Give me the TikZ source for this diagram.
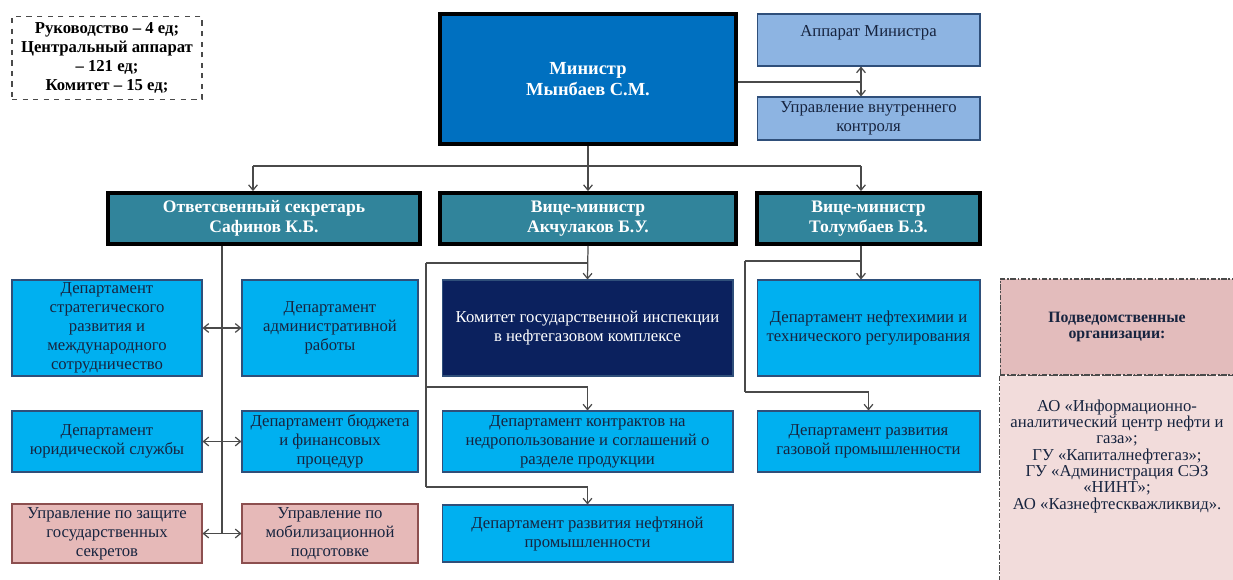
\documentclass[tikz,border=0pt]{standalone}
\usepackage{fontspec}
\setmainfont{Liberation Serif}
\usepackage{xcolor}
\usepackage{tikz}
\usetikzlibrary{arrows.meta}

\definecolor{minblue}{HTML}{0070C0}
\definecolor{paleblue}{HTML}{8DB4E2}
\definecolor{headteal}{HTML}{31849B}
\definecolor{deptcyan}{HTML}{00B0F0}
\definecolor{komnavy}{HTML}{0B215E}
\definecolor{rosebox}{HTML}{E6B9B8}
\definecolor{roseline}{HTML}{8C4F4F}
\definecolor{orghead}{HTML}{E3BCBC}
\definecolor{orgbody}{HTML}{F2DCDB}
\definecolor{boxline}{HTML}{2F4F7A}
\definecolor{darktext}{HTML}{17243F}
\definecolor{linkgray}{HTML}{4A4A4A}

\begin{document}
\begin{tikzpicture}[x=0.02cm, y=-0.02cm, >={Straight Barb[length=3pt,width=5pt]},
    box/.style={draw=boxline, line width=0.6pt, align=center, inner sep=1pt,
        text=darktext, font=\fontsize{9.5}{10.8}\selectfont},
    deptbox/.style={box, fill=deptcyan},
    rosebox/.style={box, fill=rosebox, draw=roseline},
    palebox/.style={box, fill=paleblue, minimum width=4.46cm},
    headbox/.style={draw=black, line width=2.2pt, fill=headteal, align=center,
        text=white, font=\bfseries\fontsize{10}{11.4}\selectfont, minimum height=1.02cm},
    link/.style={draw=linkgray, line width=0.7pt},
    linkarrow/.style={link, ->},
    bothways/.style={link, <->}]

    \useasboundingbox (0,0) rectangle (1233,579);

    % staff numbers
    \node[draw=linkgray, dashed, line width=0.6pt, minimum width=3.8cm, minimum height=1.64cm,
        align=center, font=\bfseries\fontsize{9.5}{10.8}\selectfont] (staff) at (107,58)
        {Руководство – 4 ед;\\Центральный аппарат\\– 121 ед;\\Комитет – 15 ед;};

    % top level
    \node[headbox, fill=minblue, minimum width=5.92cm, minimum height=2.6cm,
        font=\bfseries\fontsize{10.5}{12}\selectfont] (minister) at (588,79)
        {Министр\\Мынбаев С.М.};
    \node[palebox, minimum height=1.04cm] (apparat) at (868.5,40) {Аппарат Министра\\~};
    \node[palebox, minimum height=0.86cm] (control) at (868.5,118.5)
        {Управление внутреннего\\контроля};

    % second level
    \node[headbox, minimum width=6.24cm] (secretary) at (264,218.5)
        {Ответсвенный секретарь\\Сафинов К.Б.};
    \node[headbox, minimum width=5.92cm] (vm1) at (588,218.5)
        {Вице-министр\\Акчулаков Б.У.};
    \node[headbox, minimum width=4.46cm] (vm2) at (868.5,218.5)
        {Вице-министр\\Толумбаев Б.З.};

    % secretary's units
    \node[deptbox, minimum width=3.8cm, minimum height=1.92cm] (strat) at (107,328)
        {Департамент\\стратегического\\развития и\\международного\\сотрудничество};
    \node[deptbox, minimum width=3.52cm, minimum height=1.92cm] (admin) at (330,328)
        {Департамент\\административной\\работы};
    \node[deptbox, minimum width=3.8cm, minimum height=1.22cm] (jur) at (107,441.5)
        {Департамент\\юридической службы};
    \node[deptbox, minimum width=3.52cm, minimum height=1.22cm] (budget) at (330,441.5)
        {Департамент бюджета\\и финансовых\\процедур};
    \node[rosebox, minimum width=3.8cm, minimum height=1.18cm] (secret) at (107,533.5)
        {Управление по защите\\государственных\\секретов};
    \node[rosebox, minimum width=3.52cm, minimum height=1.18cm] (mobil) at (330,533.5)
        {Управление по\\мобилизационной\\подготовке};

    % first vice minister
    \node[deptbox, fill=komnavy, text=white, minimum width=5.82cm, minimum height=1.92cm]
        (committee) at (587.5,328)
        {Комитет государственной инспекции\\в нефтегазовом комплексе};
    \node[deptbox, minimum width=5.82cm, minimum height=1.22cm] (contracts) at (587.5,441.5)
        {Департамент контрактов на\\недропользование и соглашений о\\разделе продукции};
    \node[deptbox, minimum width=5.82cm, minimum height=1.14cm] (oil) at (587.5,533.5)
        {Департамент развития нефтяной\\промышленности};

    % second vice minister
    \node[deptbox, minimum width=4.46cm, minimum height=1.92cm] (petro) at (868.5,328)
        {Департамент нефтехимии и\\технического регулирования};
    \node[deptbox, minimum width=4.46cm, minimum height=1.22cm] (gas) at (868.5,441.5)
        {Департамент развития\\газовой промышленности};

    % subordinate organisations
    \node[draw=linkgray, line width=0.6pt, dash pattern=on 3pt off 1pt on 1pt off 1pt,
        fill=orghead, minimum width=4.68cm, minimum height=1.92cm, align=center,
        text=darktext, font=\bfseries\fontsize{9}{9.2}\selectfont] (orghead) at (1117,327)
        {Подведомственные\\организации:};
    \draw[draw=linkgray, line width=0.6pt, dash pattern=on 3pt off 1pt on 1pt off 1pt,
        fill=orgbody] (orghead.south west) rectangle (1234,590);
    \node[align=center, text=darktext, font=\fontsize{9.5}{9.3}\selectfont] (orgs) at (1117,456)
        {АО «Информационно-\\аналитический центр нефти и\\газа»;\\ГУ «Капиталнефтегаз»;\\ГУ «Администрация СЭЗ\\«НИНТ»;\\АО «Казнефтескважликвид».};

    % connectors
    \coordinate (rx) at (861,82);
    \coordinate (hub) at (253,166);
    \coordinate (lspine) at (222,0);
    \coordinate (mspine) at (426,263);
    \coordinate (mfork) at (426,387);
    \coordinate (mend) at (426,487);
    \coordinate (rspine) at (745,261);
    \coordinate (rfork) at (745,392);

    \draw[link] (minister.east |- rx) -- (rx);
    \draw[bothways] (apparat.south -| rx) -- (control.north -| rx);

    \draw[link] (minister.south) -- (minister.south |- hub);
    \draw[link] (hub) -- (hub -| rx);
    \draw[linkarrow] (hub) -- (hub |- secretary.north);
    \draw[linkarrow] (minister.south |- hub) -- (vm1.north);
    \draw[linkarrow] (hub -| rx) -- (vm2.north -| rx);

    \draw[link] (secretary.south -| lspine) -- (secret.east -| lspine);
    \draw[bothways] (strat.east) -- (admin.west);
    \draw[bothways] (jur.east) -- (budget.west);
    \draw[bothways] (secret.east) -- (mobil.west);

    \draw[linkarrow] (vm1.south) -- (committee.north);
    \draw[link] (mspine) -- (vm1.south |- mspine);
    \draw[link] (mspine) -- (mend);
    \draw[linkarrow] (mfork) -| (contracts.north);
    \draw[linkarrow] (mend) -| (oil.north);

    \draw[linkarrow] (vm2.south -| rx) -- (petro.north -| rx);
    \draw[link] (rspine) -- (rspine -| rx);
    \draw[link] (rspine) -- (rfork);
    \draw[linkarrow] (rfork) -| (gas.north);
\end{tikzpicture}
\end{document}
